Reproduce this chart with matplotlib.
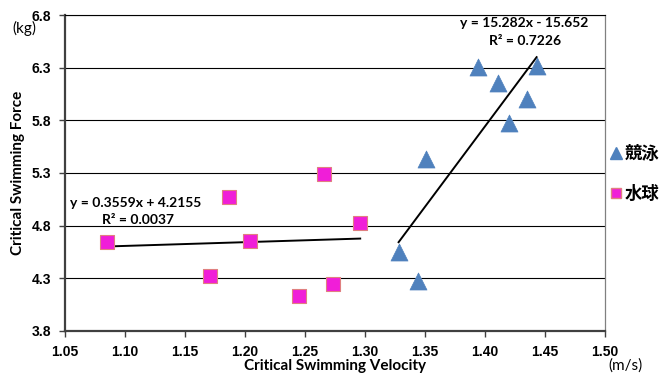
import numpy as np
import matplotlib
matplotlib.use("Agg")
import matplotlib.pyplot as plt

# 競泳 (competitive swimming)
swim_x = [1.328, 1.344, 1.351, 1.394, 1.411, 1.420, 1.435, 1.443]
swim_y = [4.55, 4.27, 5.43, 6.31, 6.15, 5.77, 6.00, 6.32]
# 水球 (water polo)
polo_x = [1.085, 1.171, 1.187, 1.204, 1.245, 1.266, 1.273, 1.296]
polo_y = [4.64, 4.32, 5.07, 4.65, 4.13, 5.29, 4.25, 4.82]

swim_fit = (15.282, -15.652)
polo_fit = (0.3559, 4.2155)

x_ticks = [1.05, 1.10, 1.15, 1.20, 1.25, 1.30, 1.35, 1.40, 1.45, 1.50]
y_ticks = [3.8, 4.3, 4.8, 5.3, 5.8, 6.3, 6.8]

LABEL_FONT = ["Lato", "DejaVu Sans"]
TICK_FONT = ["Liberation Sans", "DejaVu Sans"]
JP_FONT = ["Noto Sans CJK JP", "DejaVu Sans"]

fig = plt.figure(figsize=(6.7, 3.76), dpi=100)
ax = fig.add_axes([0.097, 0.12, 0.806, 0.84])

ax.set_xlim(1.05, 1.50)
ax.set_ylim(3.8, 6.8)
ax.set_xticks(x_ticks)
ax.set_yticks(y_ticks)
ax.set_xticklabels([f"{v:.2f}" for v in x_ticks], family=TICK_FONT,
                   fontweight="bold", fontsize=10)
ax.set_yticklabels([f"{v:.1f}" for v in y_ticks], family=TICK_FONT,
                   fontweight="bold", fontsize=10)
ax.tick_params(axis="both", direction="out", length=4, width=1, color="#404040")
ax.tick_params(axis="x", pad=6)
ax.tick_params(axis="y", pad=6)

ax.grid(axis="y", color="black", linewidth=0.8)
ax.set_axisbelow(True)
for s in ["left", "bottom"]:
    ax.spines[s].set_color("#404040")
    ax.spines[s].set_linewidth(1.6)
ax.spines["right"].set_color("#808080")
ax.spines["right"].set_linewidth(0.9)
ax.spines["top"].set_color("black")
ax.spines["top"].set_linewidth(0.8)

# trend lines
for xs, (m, b) in [(polo_x, polo_fit), (swim_x, swim_fit)]:
    xx = np.array([min(xs), max(xs)])
    ax.plot(xx, m * xx + b, color="black", linewidth=1.4, zorder=2)

ax.scatter(swim_x, swim_y, marker="^", s=150, color="#4F81BD",
           edgecolors="#4F81BD", linewidths=0.5, zorder=3)
ax.scatter(polo_x, polo_y, marker="s", s=110, color="#F01ED8",
           edgecolors="#E08080", linewidths=0.8, zorder=3)

ax.text(1.4325, 6.725, "y = 15.282x - 15.652", ha="center", va="center",
        family=LABEL_FONT, fontweight="bold", fontsize=10)
ax.text(1.433, 6.555, "R² = 0.7226", ha="center", va="center",
        family=LABEL_FONT, fontweight="bold", fontsize=10)
ax.text(1.054, 5.01, "y = 0.3559x + 4.2155", ha="left", va="center",
        family=LABEL_FONT, fontweight="bold", fontsize=10)
ax.text(1.081, 4.85, "R² = 0.0037", ha="left", va="center",
        family=LABEL_FONT, fontweight="bold", fontsize=10)

ax.set_xlabel("Critical Swimming Velocity", family=LABEL_FONT,
              fontweight="bold", fontsize=11)
ax.set_ylabel("Critical Swimming Force", family=LABEL_FONT,
              fontweight="bold", fontsize=11)
ax.xaxis.set_label_coords(0.5, -0.09)
ax.yaxis.set_label_coords(-0.074, 0.5)

fig.text(0.037, 0.925, "(kg)", family=LABEL_FONT, fontsize=11,
         ha="center", va="center")
fig.text(0.933, 0.028, "(m/s)", family=LABEL_FONT, fontsize=11,
         ha="center", va="center")

# legend
fig.lines.append(plt.Line2D([0.919], [1 - 153 / 376], marker="^",
                            markersize=9, color="#4F81BD", transform=fig.transFigure))
fig.lines.append(plt.Line2D([0.919], [1 - 193 / 376], marker="s",
                            markersize=7.5, color="#F01ED8",
                            markeredgecolor="#E08080", transform=fig.transFigure))
fig.text(0.932, 1 - 154 / 376, "競泳", family=JP_FONT, fontweight="bold",
         fontsize=12.5, va="center", ha="left")
fig.text(0.932, 1 - 194 / 376, "水球", family=JP_FONT, fontweight="bold",
         fontsize=12.5, va="center", ha="left")

fig.savefig("out.png", dpi=100)
